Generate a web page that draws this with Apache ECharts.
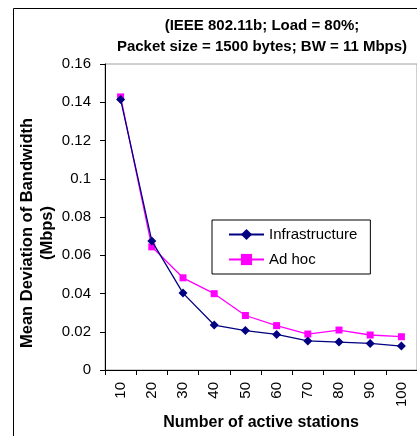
<!DOCTYPE html>
<html>
<head>
<meta charset="utf-8">
<script src="https://cdn.jsdelivr.net/npm/echarts@6/dist/echarts.min.js"></script>
<style>
html,body{margin:0;padding:0;background:#fff;}
#chart{width:417px;height:436px;}
</style>
</head>
<body>
<div id="chart"></div>
<script>
var categories = ['10','20','30','40','50','60','70','80','90','100'];
var infrastructure = [0.1415, 0.0675, 0.0402, 0.0235, 0.0206, 0.0186, 0.0152, 0.0146, 0.0139, 0.0125];
var adHoc = [0.1428, 0.0644, 0.0482, 0.0399, 0.0285, 0.0232, 0.0188, 0.0209, 0.0183, 0.0174];
var titleLines = ['(IEEE 802.11b; Load = 80%;', 'Packet size = 1500 bytes; BW = 11 Mbps)'];

var FONT = 'Liberation Sans, Arial, sans-serif';
var chart = echarts.init(document.getElementById('chart'), null, {renderer:'canvas'});
chart.setOption({
  backgroundColor: '#ffffff',
  animation: false,
  graphic: [{
    type: 'rect',
    shape: {x: 13.5, y: 8.5, width: 600, height: 600},
    style: {fill: 'none', stroke: '#000', lineWidth: 1},
    silent: true, z: -10
  }],
  title: {
    text: titleLines.join('\n'),
    left: 257, top: 10, textAlign: 'center',
    textStyle: {fontFamily: FONT, fontSize: 15, fontWeight: 'bold', color: '#000', lineHeight: 21}
  },
  legend: {
    left: 212, top: 220,
    orient: 'vertical',
    itemWidth: 35, itemHeight: 14, itemGap: 10,
    padding: [7, 13, 7, 16],
    borderColor: '#000', borderWidth: 1, backgroundColor: '#fff',
    textStyle: {fontFamily: FONT, fontSize: 15, color: '#000'},
    data: ['Infrastructure', 'Ad hoc']
  },
  grid: {
    left: 105, top: 64, width: 314, height: 308,
    show: true, borderColor: '#a0a0a0', borderWidth: 1, backgroundColor: 'transparent'
  },
  xAxis: {
    type: 'category',
    data: categories,
    boundaryGap: true,
    axisLine: {lineStyle: {color: '#000', width: 1}},
    axisTick: {show: true, alignWithLabel: false, length: 5, inside: false, lineStyle: {color: '#000'}},
    axisLabel: {rotate: 90, margin: 12, fontFamily: FONT, fontSize: 15, color: '#000', interval: 0},
    splitLine: {show: false},
    name: 'Number of active stations',
    nameLocation: 'middle',
    nameGap: 45,
    nameMoveOverlap: false,
    nameTextStyle: {fontFamily: FONT, fontSize: 16, fontWeight: 'bold', color: '#000'}
  },
  yAxis: {
    type: 'value',
    min: 0, max: 0.16, interval: 0.02,
    axisLine: {show: true, lineStyle: {color: '#000', width: 1}},
    axisTick: {show: true, length: 5, lineStyle: {color: '#000'}},
    axisLabel: {margin: 14, fontFamily: FONT, fontSize: 15, color: '#000'},
    splitLine: {show: false},
    name: 'Mean Deviation of Bandwidth\n(Mbps)',
    nameLocation: 'middle',
    nameGap: 48,
    nameMoveOverlap: false,
    nameTextStyle: {fontFamily: FONT, fontSize: 16.5, fontWeight: 'bold', color: '#000', lineHeight: 20, padding: [0, 32, 0, 0]}
  },
  series: [
    {
      name: 'Infrastructure', type: 'line', data: infrastructure,
      symbol: 'diamond', symbolSize: 9,
      lineStyle: {color: '#000080', width: 1.3},
      itemStyle: {color: '#000080'},
      z: 3
    },
    {
      name: 'Ad hoc', type: 'line', data: adHoc,
      symbol: 'rect', symbolSize: 7,
      lineStyle: {color: '#ff00ff', width: 1.3},
      itemStyle: {color: '#ff00ff'},
      z: 2
    }
  ]
});
</script>
</body>
</html>
